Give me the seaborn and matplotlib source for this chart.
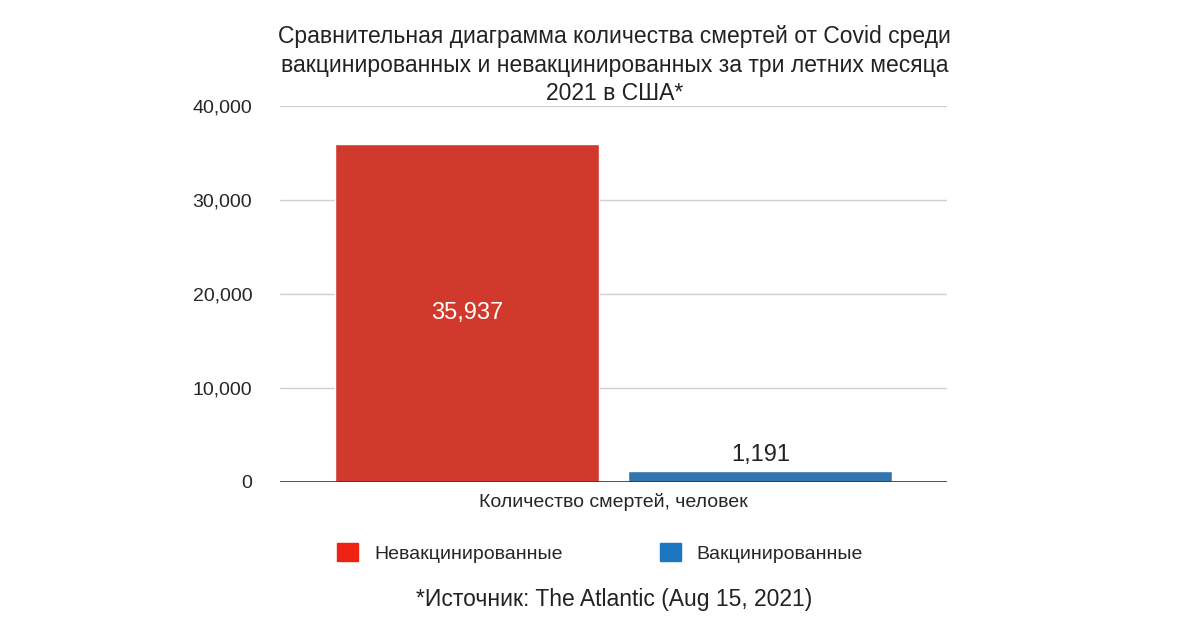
import matplotlib
matplotlib.use("Agg")
import matplotlib.pyplot as plt
import seaborn as sns
import pandas as pd
from matplotlib.ticker import FuncFormatter

# data
category = ["Количество смертей, человек"]
groups = ["Невакцинированные", "Вакцинированные"]
deaths = [35937, 1191]
colors = ["#ED2212", "#1D76C2"]

df = pd.DataFrame({"cat": category * 2, "group": groups, "deaths": deaths})

sns.set_style("white")
plt.rcParams["font.family"] = ["Liberation Sans", "DejaVu Sans"]

fig = plt.figure(figsize=(12, 6.28), dpi=100)
ax = fig.add_axes([0.2333, 0.2325, 0.556, 0.599])

sns.barplot(data=df, x="cat", y="deaths", hue="group", palette=colors,
            width=0.88, gap=0.1, ax=ax, legend=False, zorder=3)

ax.set_xlim(-0.5, 0.5)
ax.set_ylim(0, 40000)
ax.set_yticks([0, 10000, 20000, 30000, 40000])
ax.yaxis.set_major_formatter(FuncFormatter(lambda v, p: f"{int(v):,}"))
ax.grid(axis="y", color="#D0D0D0", linewidth=1, zorder=0)
ax.axhline(0, color="#333333", linewidth=1.2, zorder=4)
for s in ax.spines.values():
    s.set_visible(False)
ax.tick_params(axis="y", length=0, labelsize=14, pad=20)
ax.tick_params(axis="x", length=0, labelsize=14, pad=8)
ax.set_xlabel("")
ax.set_ylabel("")

bars = ax.patches
ax.text(bars[0].get_x() + bars[0].get_width() / 2, deaths[0] / 2, f"{deaths[0]:,}",
        ha="center", va="center", color="white", fontsize=17, zorder=5)
ax.text(bars[1].get_x() + bars[1].get_width() / 2, deaths[1] + 500, f"{deaths[1]:,}",
        ha="center", va="bottom", color="#222222", fontsize=17, zorder=5)

fig.text(0.512, 0.96, "Сравнительная диаграмма количества смертей от Covid среди\n"
         "вакцинированных и невакцинированных за три летних месяца\n2021 в США*",
         ha="center", va="top", fontsize=16.5, color="#222222", linespacing=1.3)

handles = [plt.Rectangle((0, 0), 1, 1, color=c) for c in colors]
fig.legend(handles, groups, loc="center", bbox_to_anchor=(0.5, 0.12), ncol=2,
           frameon=False, fontsize=14, handlelength=1.1, handleheight=1.1,
           columnspacing=5)

fig.text(0.512, 0.045, "*Источник: The Atlantic (Aug 15, 2021)", ha="center",
         va="center", fontsize=16.5, color="#222222")

fig.savefig("out.png", dpi=100)
